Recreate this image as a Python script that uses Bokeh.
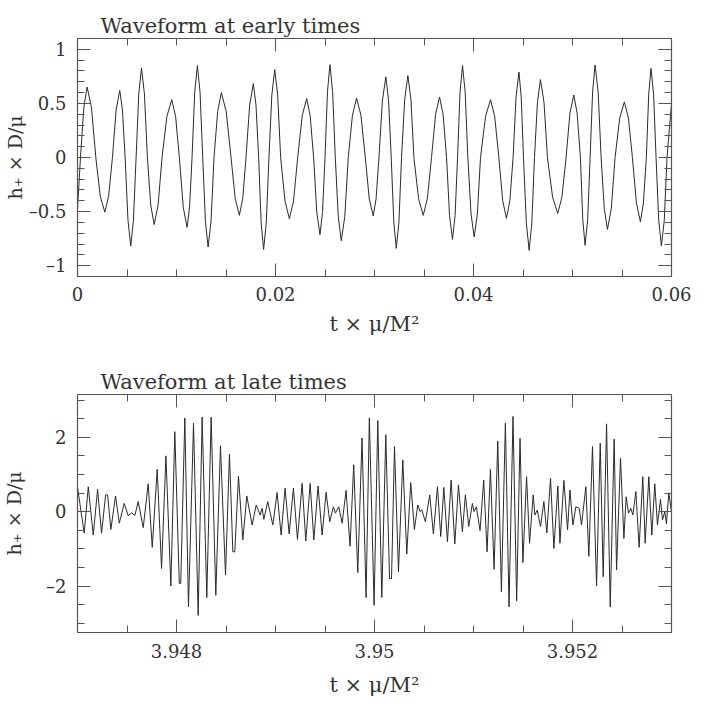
from bokeh.plotting import figure
from bokeh.models import LinearAxis, SingleIntervalTicker, CustomJSTickFormatter, Range1d
from bokeh.layouts import column
from bokeh.embed import file_html
from bokeh.resources import INLINE

# ---------------- data: early-time waveform (t x mu/M^2, h+ x D/mu) ----------------
early_t_1 = [0.0,
             0.00030, 0.00064, 0.00097, 0.00141,
             0.00185, 0.00230, 0.00276, 0.00314,
             0.00353, 0.00390, 0.00427, 0.00454,
             0.00481, 0.00510, 0.00538, 0.00565,
             0.00592, 0.00619, 0.00646, 0.00676,
             0.00706, 0.00740, 0.00774, 0.00814,
             0.00854, 0.00903, 0.00952, 0.00991,
             0.01029, 0.01068, 0.01107, 0.01132,
             0.01157, 0.01184, 0.01211, 0.01238,
             0.01265, 0.01292, 0.01319, 0.01349,
             0.01379, 0.01416, 0.01453, 0.01502]
early_h_1 = [-0.48,
             0, 0.463, 0.652, 0.463,
             0, -0.359, -0.505, -0.359,
             0, 0.44, 0.62, 0.44,
             0, -0.581, -0.818, -0.581,
             0, 0.588, 0.828, 0.588,
             0, -0.44, -0.62, -0.44,
             0, 0.38, 0.535, 0.38,
             0, -0.459, -0.646, -0.459,
             0, 0.604, 0.85, 0.604,
             0, -0.588, -0.828, -0.588,
             0, 0.426, 0.6, 0.426]
early_t_2 = [0.01551, 0.01593, 0.01635, 0.01669,
             0.01702, 0.01739, 0.01776, 0.01803,
             0.01830, 0.01855, 0.01880, 0.01907,
             0.01934, 0.01963, 0.01992, 0.02022,
             0.02052, 0.02096, 0.02140, 0.02182,
             0.02224, 0.02270, 0.02315, 0.02350,
             0.02385, 0.02417, 0.02449, 0.02475,
             0.02500, 0.02525, 0.02550, 0.02577,
             0.02604, 0.02634, 0.02664, 0.02700,
             0.02735, 0.02777, 0.02819, 0.02863,
             0.02907, 0.02947, 0.02987, 0.03016]
early_h_2 = [0, -0.38, -0.535, -0.38,
             0, 0.485, 0.683, 0.485,
             0, -0.604, -0.85, -0.604,
             0, 0.577, 0.812, 0.577,
             0, -0.402, -0.566, -0.402,
             0, 0.387, 0.545, 0.387,
             0, -0.507, -0.714, -0.507,
             0, 0.609, 0.858, 0.609,
             0, -0.547, -0.77, -0.547,
             0, 0.39, 0.55, 0.39,
             0, -0.383, -0.54, -0.383]
early_t_3 = [0.03045, 0.03080, 0.03115, 0.03142,
             0.03169, 0.03195, 0.03220, 0.03247,
             0.03273, 0.03305, 0.03337, 0.03368,
             0.03398, 0.03445, 0.03492, 0.03534,
             0.03576, 0.03617, 0.03657, 0.03693,
             0.03728, 0.03758, 0.03788, 0.03814,
             0.03839, 0.03864, 0.03889, 0.03916,
             0.03943, 0.03975, 0.04007, 0.04039,
             0.04071, 0.04122, 0.04172, 0.04214,
             0.04256, 0.04295, 0.04333, 0.04367,
             0.04400, 0.04430, 0.04459, 0.04482]
early_h_3 = [0, 0.529, 0.745, 0.529,
             0, -0.596, -0.84, -0.596,
             0, 0.537, 0.757, 0.537,
             0, -0.38, -0.535, -0.38,
             0, 0.398, 0.56, 0.398,
             0, -0.537, -0.757, -0.537,
             0, 0.604, 0.85, 0.604,
             0, -0.522, -0.735, -0.522,
             0, 0.38, 0.535, 0.38,
             0, -0.4, -0.563, -0.4,
             0, 0.561, 0.79, 0.561]
early_t_4 = [0.04505, 0.04534, 0.04562, 0.04589,
             0.04616, 0.04646, 0.04676, 0.04712,
             0.04747, 0.04799, 0.04851, 0.04893,
             0.04935, 0.04974, 0.05013, 0.05047,
             0.05080, 0.05104, 0.05127, 0.05153,
             0.05178, 0.05203, 0.05228, 0.05259,
             0.05289, 0.05321, 0.05353, 0.05392,
             0.05430, 0.05477, 0.05524, 0.05565,
             0.05605, 0.05646, 0.05686, 0.05716,
             0.05746, 0.05770, 0.05793, 0.05819,
             0.05844, 0.05871, 0.05898, 0.05927,
             0.05955, 0.06000]
early_h_4 = [0, -0.609, -0.858, -0.609,
             0, 0.511, 0.72, 0.511,
             0, -0.367, -0.517, -0.367,
             0, 0.41, 0.578, 0.41,
             0, -0.577, -0.812, -0.577,
             0, 0.607, 0.855, 0.607,
             0, -0.472, -0.665, -0.472,
             0, 0.365, 0.514, 0.365,
             0, -0.422, -0.594, -0.422,
             0, 0.586, 0.825, 0.586,
             0, -0.581, -0.818, -0.581,
             0, 0.5]

# ---------------- data: late-time waveform ----------------
late_t_1 = [3.947000, 3.947068, 3.947109, 3.947159, 3.947203, 3.947243, 3.947284,
            3.947304, 3.947337, 3.947384, 3.947422, 3.947472, 3.947512, 3.947546,
            3.947580, 3.947613, 3.947664, 3.947714, 3.947755, 3.947805, 3.947849,
            3.947893, 3.947943, 3.947983, 3.948028, 3.948043, 3.948084, 3.948121,
            3.948172, 3.948219, 3.948259, 3.948306, 3.948350, 3.948397, 3.948444]
late_h_1 = [0.66, -0.58, 0.67, -0.63, 0.60, -0.58, 0.45,
            0.45, -0.48, 0.42, -0.31, 0.22, -0.11, -0.03,
            -0.10, 0.27, -0.43, 0.75, -0.96, 1.14, -1.53,
            1.50, -2.00, 2.15, -1.93, -1.93, 2.52, -2.56,
            2.38, -2.79, 2.54, -2.31, 2.54, -2.25, 1.77]
late_t_2 = [3.948495, 3.948535, 3.948569, 3.948589, 3.948626, 3.948670, 3.948710,
            3.948764, 3.948805, 3.948845, 3.948865, 3.948882, 3.948922, 3.948973,
            3.949016, 3.949057, 3.949097, 3.949138, 3.949181, 3.949222, 3.949269,
            3.949306, 3.949350, 3.949387, 3.949430, 3.949471, 3.949511, 3.949548,
            3.949585, 3.949605, 3.949639, 3.949673, 3.949713, 3.949753, 3.949790,
            3.949831, 3.949874, 3.949915, 3.949948]
late_h_2 = [-1.70, 1.55, -1.08, -1.08, 0.95, -0.76, 0.42,
            -0.36, 0.18, -0.09, 0.09, -0.21, 0.27, -0.36,
            0.51, -0.63, 0.63, -0.60, 0.63, -0.75, 0.76,
            -0.79, 0.76, -0.76, 0.69, -0.63, 0.52, -0.27,
            0.13, -0.04, 0.13, -0.31, 0.57, -0.93, 1.26,
            -1.64, 1.98, -2.31, 2.52]
late_t_3 = [3.949996, 3.950033, 3.950074, 3.950114, 3.950152, 3.950172, 3.950202,
            3.950242, 3.950286, 3.950326, 3.950366, 3.950403, 3.950437, 3.950461,
            3.950477, 3.950514, 3.950558, 3.950595, 3.950636, 3.950669, 3.950700,
            3.950737, 3.950774, 3.950811, 3.950848, 3.950888, 3.950918, 3.950952,
            3.950989, 3.951006, 3.951029, 3.951066, 3.951103, 3.951137, 3.951171,
            3.951208, 3.951245, 3.951282, 3.951322, 3.951359, 3.951399, 3.951436,
            3.951470]
late_h_3 = [-2.52, 2.45, -2.31, 2.07, -1.80, -1.80, 1.75,
            -1.62, 1.39, -1.14, 0.78, -0.48, 0.18, 0.00,
            0.05, -0.27, 0.45, -0.60, 0.67, -0.67, 0.65,
            -0.81, 0.85, -0.87, 0.72, -0.54, 0.45, -0.40,
            0.22, 0.00, 0.13, -0.51, 0.85, -1.08, 1.14,
            -1.55, 1.90, -2.16, 2.38, -2.56, 2.56, -2.40,
            1.97]
late_t_4 = [3.951499, 3.951536, 3.951566, 3.951603, 3.951620, 3.951644, 3.951677,
            3.951711, 3.951741, 3.951778, 3.951812, 3.951852, 3.951873, 3.951913,
            3.951950, 3.951974, 3.952004, 3.952034, 3.952068, 3.952091, 3.952135,
            3.952165, 3.952202, 3.952243, 3.952280, 3.952310, 3.952344, 3.952381,
            3.952421, 3.952445, 3.952485, 3.952519, 3.952542, 3.952566, 3.952589,
            3.952610, 3.952640, 3.952673, 3.952710, 3.952734, 3.952771, 3.952801,
            3.952831, 3.952858, 3.952889, 3.952909, 3.952933, 3.952949, 3.952973,
            3.953000]
late_h_4 = [-1.37, 0.94, -0.85, 0.45, -0.09, 0.04, -0.40,
            0.27, -0.57, 0.90, -0.99, 0.69, -0.85, 0.84,
            -0.49, 0.58, -0.36, 0.13, 0.09, -0.36, 0.67,
            -1.20, 1.75, -2.00, 1.84, -1.75, 2.36, -2.56,
            1.95, -1.57, 1.44, -0.72, 0.40, -0.04, 0.09,
            -0.09, 0.54, -0.96, 0.94, -0.85, 0.94, -0.63,
            0.75, -0.36, 0.33, -0.22, 0.00, -0.33, 0.51,
            0.00]

early_t = early_t_1 + early_t_2 + early_t_3 + early_t_4
early_h = early_h_1 + early_h_2 + early_h_3 + early_h_4
late_t = late_t_1 + late_t_2 + late_t_3 + late_t_4
late_h = late_h_1 + late_h_2 + late_h_3 + late_h_4

early_title = "Waveform at early times"
late_title = "Waveform at late times"
x_label = "t \u00d7 \u03bc/M\u00b2"
y_label = "h\u208a \u00d7 D/\u03bc"

FONT = "DejaVu Serif"
TEXT = "#333333"
AXC = "#555555"
LINE = "#2a2a2a"

FMT = """
const v = Math.round(tick * 1e6) / 1e6;
return (v < 0 ? "\u2013" : "") + String(Math.abs(v));
"""
BLANK = 'return "";'


def style_axis(ax, interval, n_minor, labels, label_text=None,
               label_standoff=8, title_standoff=2, title_size="19px"):
    ax.ticker = SingleIntervalTicker(interval=interval, num_minor_ticks=n_minor)
    ax.axis_line_color = AXC
    ax.axis_line_width = 1.2
    ax.major_tick_in = 13
    ax.major_tick_out = 0
    ax.minor_tick_in = 7
    ax.minor_tick_out = 0
    ax.major_tick_line_color = AXC
    ax.minor_tick_line_color = AXC
    ax.major_tick_line_width = 1
    ax.minor_tick_line_width = 1
    ax.major_label_text_font = FONT
    ax.major_label_text_color = TEXT
    if labels:
        ax.formatter = CustomJSTickFormatter(code=FMT)
        ax.major_label_text_font_size = "18px"
        ax.major_label_standoff = label_standoff
    else:
        ax.formatter = CustomJSTickFormatter(code=BLANK)
        ax.major_label_text_font_size = "1px"
        ax.major_label_standoff = 0
    if label_text:
        ax.axis_label = label_text
        ax.axis_label_text_font = FONT
        ax.axis_label_text_font_size = title_size
        ax.axis_label_text_font_style = "normal"
        ax.axis_label_text_color = TEXT
        ax.axis_label_standoff = title_standoff


def make_panel(title, xs, ys, xr, yr, xint, xminor, yint, yminor, height, btop, bbot,
               x_std, x_tstd, y_tstd):
    p = figure(width=700, height=height, x_range=Range1d(*xr), y_range=Range1d(*yr),
               output_backend="svg", toolbar_location=None,
               x_axis_type=None, y_axis_type=None,
               min_border_left=77, min_border_right=29,
               min_border_top=btop, min_border_bottom=bbot)
    p.outline_line_color = None
    p.background_fill_color = "white"
    p.border_fill_color = "white"

    p.title.text = title
    p.title.text_font = FONT
    p.title.text_font_size = "21px"
    p.title.text_font_style = "normal"
    p.title.text_color = TEXT
    p.title.align = "left"
    p.title.offset = 23
    p.title.standoff = 2

    bottom = LinearAxis()
    style_axis(bottom, xint, xminor, True, x_label,
               label_standoff=x_std, title_standoff=x_tstd, title_size="21px")
    p.add_layout(bottom, "below")
    left = LinearAxis()
    style_axis(left, yint, yminor, True, y_label,
               label_standoff=11, title_standoff=y_tstd, title_size="19px")
    p.add_layout(left, "left")
    top = LinearAxis()
    style_axis(top, xint, xminor, False)
    p.add_layout(top, "above")
    right = LinearAxis()
    style_axis(right, yint, yminor, False)
    p.add_layout(right, "right")

    p.line(xs, ys, line_color=LINE, line_width=1)
    return p


p1 = make_panel(early_title, early_t, early_h, (0.0, 0.06), (-1.1, 1.1),
                0.02, 4, 0.5, 5, 350, 38, 74, 10, 8, 0)
p2 = make_panel(late_title, late_t, late_h, (3.947, 3.953), (-3.25, 3.15),
                0.002, 4, 2, 4, 358, 44, 76, 11, 12, 18)

layout = column(p1, p2, spacing=0)
open("out.html", "w").write(file_html(layout, INLINE))
